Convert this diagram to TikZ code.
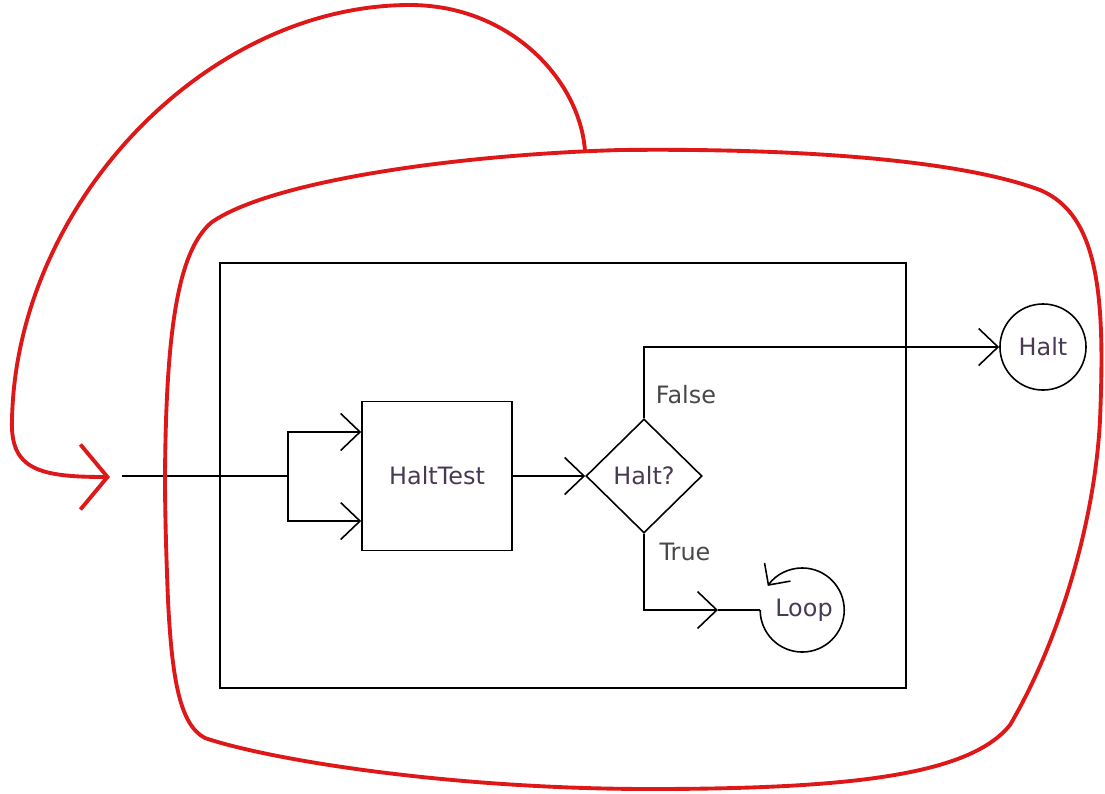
\documentclass[tikz,border=0pt]{standalone}
\usepackage{fontspec}
\setmainfont{DejaVu Sans}
\usetikzlibrary{shapes.geometric,arrows.meta}
\definecolor{inkred}{RGB}{222,24,24}
\definecolor{nodetext}{RGB}{72,58,84}
\definecolor{labeltext}{RGB}{72,72,72}
\tikzstyle{every node}=[font=\fontsize{6.8}{8}\selectfont,text=nodetext]
\tikzstyle{block}=[draw,rectangle,minimum width=1.5cm,minimum height=1.49cm,inner sep=0pt]
\tikzstyle{decision}=[draw,diamond,minimum width=1.16cm,minimum height=1.14cm,inner sep=0pt]
\tikzstyle{state}=[circle,minimum size=0.86cm,inner sep=0pt]
\tikzstyle{branch}=[text=labeltext]
\tikzstyle{flow}=[-{Straight Barb[length=5.5pt,width=10.5pt]}]
\tikzstyle{redline}=[draw=inkred,line width=1.1pt,line cap=round,line join=round]

\begin{document}
\begin{tikzpicture}[x=0.01cm,y=-0.01cm,line width=0.45pt]
\useasboundingbox (0,0) rectangle (1105,793);
  % machine
  \draw[line width=0.6pt] (220,263) rectangle (906,688);
  \node[block] (test) at (437,476) {HaltTest};
  \node[decision] (dec) at (644,476) {Halt?};
  \node[state,draw] (halt) at (1043,347) {Halt};
  \node[state] (loop) at (804,610) {Loop};
  \coordinate (in) at (122,476);
  \coordinate (split) at (288,476);
  \coordinate (mid) at (718,610);
\draw (in) -- (split);
\draw[flow] (split) |- ([yshift=0.44cm]test.west);
\draw[flow] (split) |- ([yshift=-0.45cm]test.west);
\draw[flow] (test) -- (dec);
\draw[flow] (dec.north) |- (halt);
\draw[flow] (dec.south) |- (mid);
\draw (mid) -- (loop.west);
\draw[-{Straight Barb[length=4.5pt,width=9pt]}] (loop.west) arc[start angle=180,end angle=505,radius=0.42cm];
\node[branch] (f) at (686,395) {False};
\node[branch] (t) at (685,552) {True};
  % red hand drawn part
  \coordinate (looptop) at (585,151);
  \coordinate (redtip) at (110,477);
\path[redline] (165,476) .. controls (166,330) and (178,250) .. (212,222)
  .. controls (270,182) and (450,155) .. (620,150)
  .. controls (800,148) and (960,160) .. (1040,190)
  .. controls (1100,215) and (1105,300) .. (1100,420)
  .. controls (1095,520) and (1060,640) .. (1010,725)
  .. controls (970,775) and (850,789) .. (650,789)
  .. controls (450,789) and (270,760) .. (205,738)
  .. controls (180,725) and (172,680) .. (168,600)
  .. controls (166,550) and (165,510) .. (165,476) -- cycle;
\draw[redline,-{Straight Barb[length=7.7pt,width=18.5pt]}] (looptop)
  .. controls (580,80) and (510,5) .. (410,5)
  .. controls (205,5) and (16,205) .. (12,420)
  .. controls (10,470) and (40,477) .. (redtip);
\end{tikzpicture}
\end{document}
